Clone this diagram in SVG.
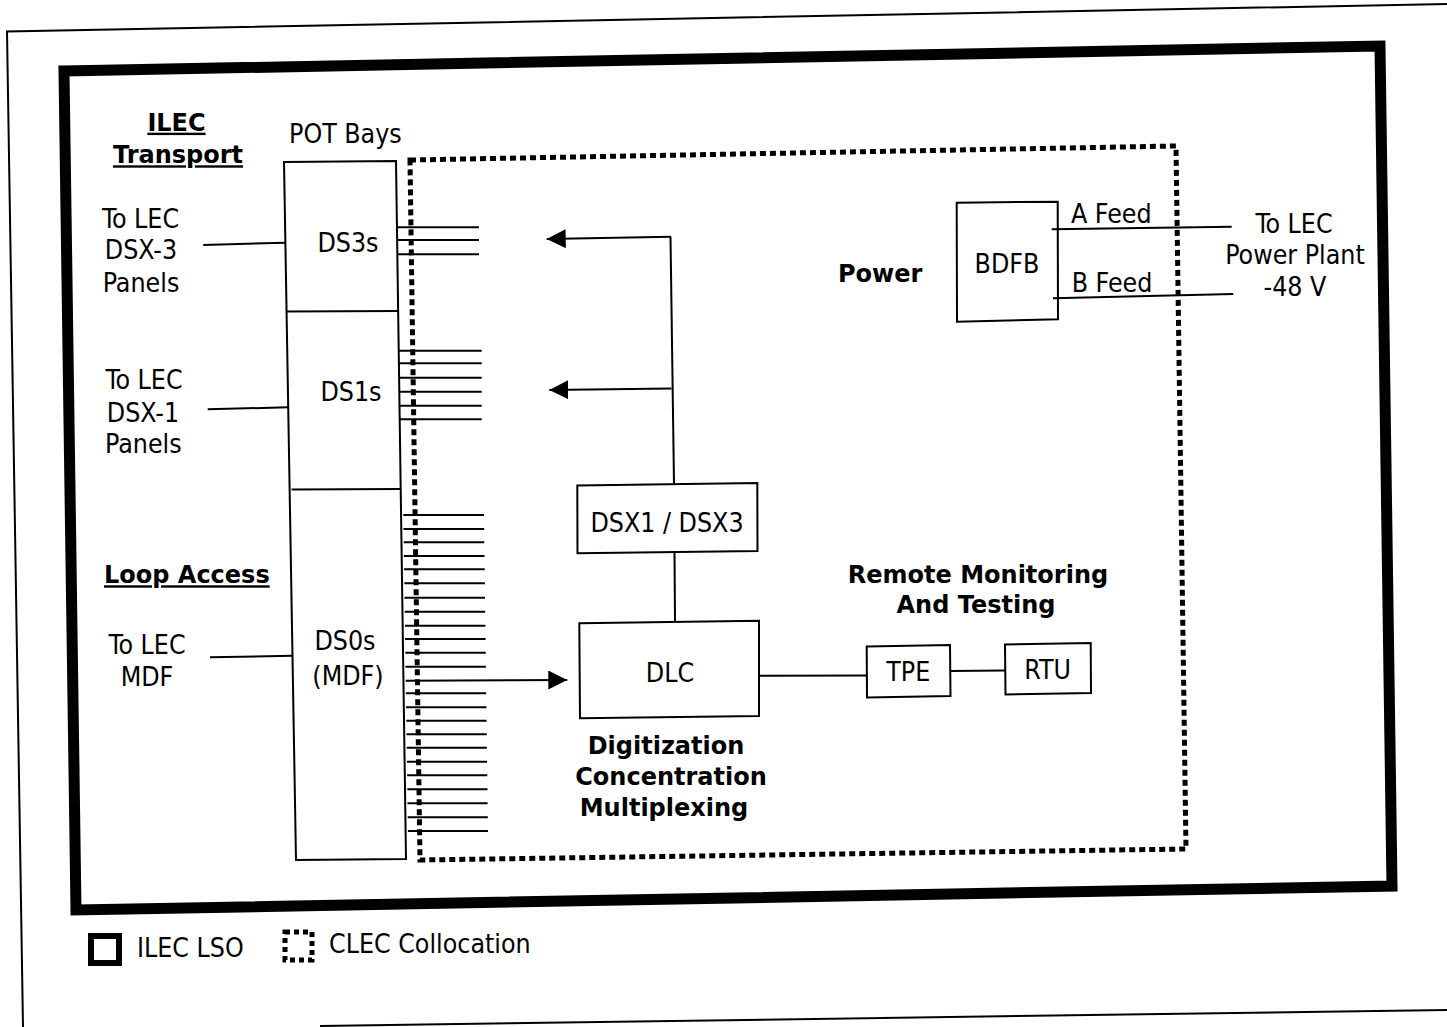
<svg xmlns="http://www.w3.org/2000/svg" width="1447" height="1027" viewBox="0 0 1447 1027">
<defs>
<style>
.ln{fill:none;stroke:#000;stroke-width:2}
.box{fill:#fff;stroke:#000;stroke-width:2}
.dot{fill:none;stroke:#000;stroke-width:5;stroke-dasharray:6 4}
.t{font-family:"DejaVu Sans Condensed","DejaVu Sans",sans-serif;font-stretch:condensed;font-size:26.5px;fill:#000}
.b{font-family:"DejaVu Sans",Verdana,sans-serif;font-weight:bold;font-size:24px;fill:#000}
.m{text-anchor:middle}
.u{text-decoration:underline}
</style>
<marker id="ah" markerWidth="20" markerHeight="20" refX="19" refY="9.5" orient="auto" markerUnits="userSpaceOnUse"><path d="M0,0 L19,9.5 L0,19 z" fill="#000"/></marker>
</defs>
<rect width="1447" height="1027" fill="#fff"/>
<g id="page-frame">
<path class="ln" d="M23,1027 L7,31.5 L1447,4"/>
<path class="ln" d="M320,1026 L1447,1010"/>
</g>
<g id="ilec-lso">
<path d="M64,71 L1380,46 L1392,886 L76,910 Z" fill="none" stroke="#000" stroke-width="11" stroke-linejoin="miter"/>
</g>
<g id="clec-collocation">
<path class="dot" d="M410,160 L1176,146 L1186,849 L420,860 Z"/>
</g>
<g id="labels">
<text class="b m u" x="176.5" y="130.7">ILEC</text>
<text class="b m u" x="178" y="163.3">Transport</text>
<text class="t" x="289" y="142.5">POT Bays</text>
<text class="t m" x="140.5" y="227.7">To LEC</text>
<text class="t m" x="141" y="259.3">DSX-3</text>
<text class="t m" x="141" y="291.7">Panels</text>
<text class="t m" x="144" y="389.3">To LEC</text>
<text class="t m" x="143" y="421.7">DSX-1</text>
<text class="t m" x="143.3" y="453.3">Panels</text>
<text class="b u" x="104" y="583.3">Loop Access</text>
<text class="t m" x="147" y="654">To LEC</text>
<text class="t m" x="147" y="686">MDF</text>
<text class="b" x="838" y="281.7">Power</text>
<text class="b m" x="978" y="583.3">Remote Monitoring</text>
<text class="b m" x="976" y="613.3">And Testing</text>
<text class="b m" x="666" y="753.5">Digitization</text>
<text class="b m" x="671" y="785">Concentration</text>
<text class="b m" x="664" y="816">Multiplexing</text>
<text class="t" x="1071" y="223.3">A Feed</text>
<text class="t" x="1071.7" y="291.7">B Feed</text>
<text class="t m" x="1294" y="233.3">To LEC</text>
<text class="t m" x="1295" y="264">Power Plant</text>
<text class="t m" x="1295" y="296">-48 V</text>
</g>
<g id="pot-bays">
<path class="box" d="M284,162 L396,161 L406,859 L296,860 Z"/>
<path class="ln" d="M286.6,311.5 L398,311 M291.6,489.5 L400.7,489"/>
<text class="t m" x="348" y="251.7">DS3s</text>
<text class="t m" x="351" y="400.7">DS1s</text>
<text class="t m" x="345" y="650">DS0s</text>
<text class="t m" x="348" y="685">(MDF)</text>
</g>
<g id="dsx">
<path class="box" d="M577.3,485.5 L757.3,483 L757.5,551 L577.5,553.3 Z"/>
<text class="t m" x="667" y="531.7">DSX1 / DSX3</text>
</g>
<g id="dlc">
<path class="box" d="M579.3,623.3 L759,620.7 L759,716 L580,718.3 Z"/>
<text class="t m" x="670" y="681.7">DLC</text>
</g>
<g id="tpe">
<path class="box" d="M866.7,646.5 L950,645 L950.5,696 L867,697.5 Z"/>
<text class="t m" x="908.3" y="681">TPE</text>
</g>
<g id="rtu">
<path class="box" d="M1005,644.5 L1090.7,643 L1091,693 L1005.5,694.5 Z"/>
<text class="t m" x="1047.7" y="679.3">RTU</text>
</g>
<g id="bdfb">
<path class="box" d="M956.7,202.7 L1057.7,201.7 L1058,319.3 L957,321.7 Z"/>
<text class="t m" x="1007" y="272.7">BDFB</text>
</g>
<g id="legend">
<rect x="91" y="936" width="28" height="27" fill="none" stroke="#000" stroke-width="6"/>
<text class="t" x="137" y="957">ILEC LSO</text>
<rect x="285" y="932" width="27" height="28" fill="none" stroke="#000" stroke-width="5" stroke-dasharray="5 4"/>
<text class="t" x="329" y="953">CLEC Collocation</text>
</g>
<g id="connectors">
<path class="ln" d="M203.3,245 L285.4,242.7 M207.7,409.3 L288.3,407.3 M210,657.3 L292.5,655.7"/>
<path class="ln" d="M397,227.3 H479 M397.1,240 H479 M397.3,254.3 H479"/>
<path class="ln" d="M398.7,350.7 H481.7 M398.9,363.3 H481.7 M399.1,377.7 H481.7 M399.3,391.7 H481.7 M399.5,405.7 H481.7 M399.7,419.3 H481.7"/>
<path class="ln" d="M403.3,515 H484 M403.5,529 H484.2 M403.7,542.3 H484.3 M403.9,556 H484.5 M404.1,569.3 H484.7 M404.3,583.3 H484.9 M404.5,597.7 H485 M404.7,611.7 H485.2 M404.9,625.7 H485.4 M405.1,639 H485.6 M405.3,652.7 H485.7 M405.5,666.7 H485.9 M405.9,693.3 H486.2 M406.1,707.3 H486.4 M406.3,720.7 H486.6 M406.5,734.3 H486.8 M406.7,747.7 H486.9 M406.9,761.7 H487.1 M407.1,775.3 H487.3 M407.3,789.3 H487.5 M407.5,803.3 H487.6 M407.7,817.3 H487.8 M407.9,831 H488"/>
<path class="ln" marker-end="url(#ah)" d="M405.7,680.7 L567.3,680"/>
<path class="ln" d="M674,483.5 L670.5,236.7"/>
<path class="ln" marker-end="url(#ah)" d="M671,236.7 L546.7,239"/>
<path class="ln" marker-end="url(#ah)" d="M671.5,388.5 L549.3,390"/>
<path class="ln" d="M674.5,553 L675,621.5"/>
<path class="ln" d="M759,675.7 L866.7,675.5"/>
<path class="ln" d="M950,671 L1005,670.5"/>
<path class="ln" d="M1051.7,229.3 L1231.7,226.7"/>
<path class="ln" d="M1053,298.3 L1233.3,294"/>
</g>
</svg>
